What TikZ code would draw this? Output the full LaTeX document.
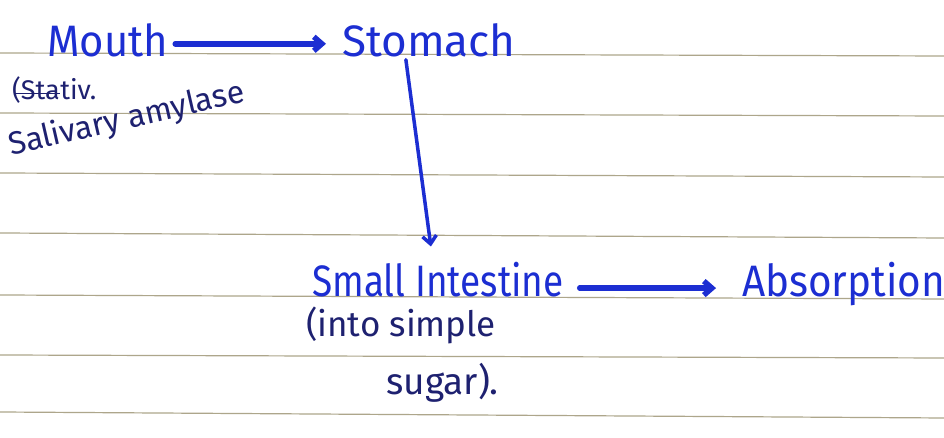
\documentclass[tikz,border=0pt]{standalone}
\usepackage{fontspec}
\setmainfont{Fira Sans}
\usepackage{tikz}
\usetikzlibrary{arrows.meta, positioning, calc}
\definecolor{inkblue}{HTML}{1C2ED2}
\definecolor{inkdark}{HTML}{1E2170}
\definecolor{ruleline}{HTML}{ADA68B}

\begin{document}
\begin{tikzpicture}[
    x=1pt, y=1pt,
    word/.style={text=inkblue,font=\fontsize{44}{44}\selectfont,inner sep=2pt,anchor=base west},
    note/.style={text=inkdark,font=\fontsize{35}{35}\selectfont,inner sep=1pt,anchor=base west},
    small note/.style={note,font=\fontsize{27}{27}\selectfont,inner sep=0pt},
    flow/.style={-{Straight Barb[length=8pt,width=14pt]},line width=5.5pt,inkblue,line cap=round},
  ]
    % paper
    \useasboundingbox (0,0) rectangle (944,438);
    \fill[white] (0,0) rectangle (944,438);
    \foreach \ly/\ry in {53/56,113/116,173/177,233/238,295/299,355/358,412/418}
      \draw[ruleline,line width=1.2pt] (0,438-\ly) -- (944,438-\ry);

    % organs
    \node[word] (mouth) at (45,381) {\scalebox{0.95}[1]{Mouth}};
    \node[word] (stomach) at (340,381) {Stomach};
    \node[word] (small) at (310,141) {\scalebox{0.84}[1]{Small Intestine}};
    \node[word] (absorb) at (740,141) {\scalebox{0.92}[1]{Absorption}};

    % notes
    \node[small note] (stativ) at (12,338) {(Sta};
    \node[small note] (stativend) at (stativ.base east) {tiv.};
    \draw[inkdark,line width=1.5pt] ([xshift=3pt,yshift=-3pt]stativ.west) -- ([yshift=-3pt]stativ.east);
    \node[note,font=\fontsize{32}{32}\selectfont,rotate=13] (amylase) at (10,282) {Salivary amylase};
    \node[note] (into) at (305,101) {(into simple};
    \node[note,font=\fontsize{37}{37}\selectfont] (sugar) at (385,43) {sugar).};

    \draw[flow] ([xshift=5pt,yshift=-3pt]mouth.east) -- ([xshift=-14pt,yshift=-3pt]stomach.west);
    \draw[flow,line width=3.5pt] ([xshift=-23pt]stomach.south) -- ([xshift=-7pt,yshift=14pt]small.north);
    \draw[flow] ([xshift=14pt,yshift=-8pt]small.east) -- ([xshift=-24pt,yshift=-8pt]small.east -| absorb.west);
\end{tikzpicture}
\end{document}
